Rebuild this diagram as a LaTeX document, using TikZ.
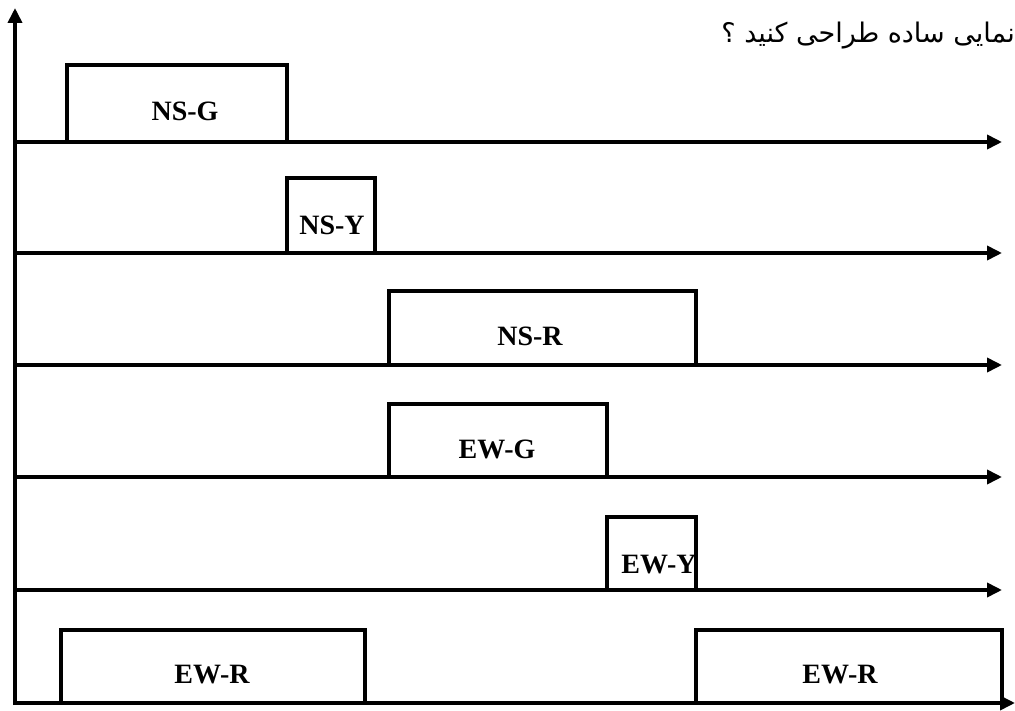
\documentclass[tikz,border=0pt]{standalone}
\usepackage{fontspec}
\setmainfont{Liberation Serif}
\newfontfamily\arabicfont[Script=Arabic]{DejaVu Sans}
\TeXXeTstate=1
\usetikzlibrary{arrows.meta}
\begin{document}
\begin{tikzpicture}[x=1pt,y=-1pt,
  wire/.style={line width=3.6pt},
  axisarrow/.style={wire,-{Triangle[length=15pt,width=14pt]}},
  pulse/.style={line width=3.6pt,line join=miter},
  lab/.style={font=\bfseries\fontsize{28}{30}\selectfont,anchor=base,inner sep=0pt}]
\useasboundingbox (0,0) rectangle (1015,711);
% vertical axis
\coordinate (yb) at (15,705);
\coordinate (yt) at (15,8);
\draw[axisarrow] (yb) -- (yt);
% time axes
\foreach \i/\y/\xe in {1/142/1002,2/253/1002,3/365/1002,4/477/1002,5/590/1002,6/703/1015}{
  \coordinate (s\i) at (15,\y);
  \coordinate (e\i) at (\xe,\y);
  \draw[axisarrow] (s\i) -- (e\i);
}
% pulses
\draw[pulse] (67,142) |- (287,65) -- (287,142);
\node[lab] (nsg) at (185,121) {NS-G};
\draw[pulse] (287,253) |- (375,178) -- (375,253);
\node[lab] (nsy) at (332,235) {NS-Y};
\draw[pulse] (389,365) |- (696,291) -- (696,365);
\node[lab] (nsr) at (530,346) {NS-R};
\draw[pulse] (389,477) |- (607,404) -- (607,477);
\node[lab] (ewg) at (497,458) {EW-G};
\draw[pulse] (607,590) |- (696,517) -- (696,590);
\node[lab] (ewy) at (659,573) {EW-Y};
\draw[pulse] (61,703) |- (365,630) -- (365,703);
\node[lab] (ewr1) at (212,683) {EW-R};
\draw[pulse] (696,703) |- (1002,630) -- (1002,703);
\node[lab] (ewr2) at (840,683) {EW-R};
% title text (cut at right edge)
\node[anchor=base east,inner sep=0pt,font=\fontsize{27}{30}\selectfont] (title) at (1015,43) {\arabicfont\beginR نمایی ساده طراحی کنید ؟\endR};
\end{tikzpicture}
\end{document}
